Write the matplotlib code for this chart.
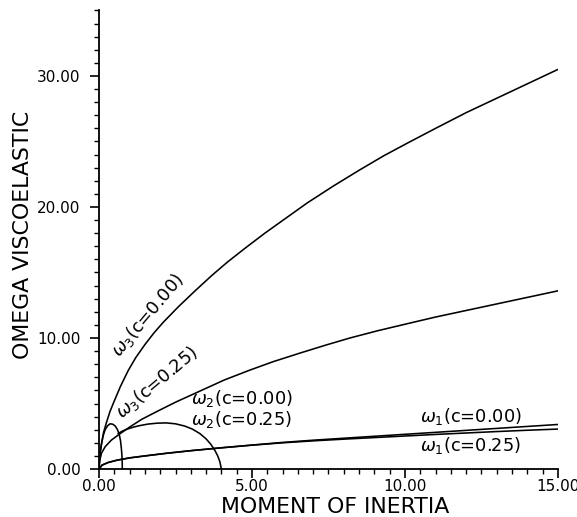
import matplotlib
matplotlib.use("Agg")
import matplotlib.pyplot as plt
from matplotlib.ticker import MultipleLocator, FormatStrFormatter

# -----------------------------------------------------------------------------
# values

w3_c000_x = [0, 0.03, 0.08, 0.15, 0.25, 0.36, 0.5, 0.7, 0.95, 1.2, 1.5, 1.8,
             2.1, 2.6, 3.14, 3.7, 4.2, 4.8, 5.42, 6.02, 6.8, 7.66, 8.5, 9.3,
             10.1, 11.0, 12.0, 13.0, 14.0, 15.0]
w3_c000_y = [0, 1.1, 1.9, 2.8, 3.6, 4.4, 5.2, 6.3, 7.5, 8.5, 9.5, 10.4,
             11.2, 12.4, 13.6, 14.8, 15.8, 16.9, 18.0, 19.0, 20.3, 21.6, 22.8,
             23.9, 24.9, 26.0, 27.2, 28.3, 29.4, 30.5]

w3_c025_x = [0, 0.02, 0.08, 0.2, 0.4, 0.69, 1.0, 1.4, 1.9, 2.5, 3.3, 4.1,
             4.93, 5.7, 6.57, 7.4, 8.2, 9.1, 10.0, 11.0, 12.0, 13.0, 14.0, 15.0]
w3_c025_y = [0, 0.6, 1.2, 1.7, 2.2, 2.7, 3.2, 3.8, 4.4, 5.1, 5.95, 6.8,
             7.55, 8.2, 8.85, 9.45, 10.0, 10.55, 11.05, 11.6, 12.1, 12.6,
             13.1, 13.6]

# small closed-off branch near the origin
w2_small_x = [0, 0.01, 0.04, 0.08, 0.13, 0.2, 0.28, 0.36, 0.45, 0.53, 0.6,
              0.66, 0.7, 0.73, 0.75, 0.76, 0.76]
w2_small_y = [0, 0.6, 1.3, 1.9, 2.5, 3.0, 3.3, 3.45, 3.42, 3.28, 3.02,
              2.65, 2.2, 1.6, 1.0, 0.4, 0]

# large arc
w2_big_x = [0.62, 0.75, 0.9, 1.1, 1.3, 1.6, 1.9, 2.2, 2.5, 2.8, 3.05, 3.3,
            3.5, 3.65, 3.78, 3.88, 3.95, 4.0]
w2_big_y = [2.7, 2.88, 3.03, 3.18, 3.3, 3.43, 3.5, 3.52, 3.45, 3.28, 3.05,
            2.7, 2.3, 1.9, 1.45, 1.0, 0.55, 0]

w1_x = [0, 0.1, 0.3, 0.6, 1.0, 1.5, 2.2, 3.0, 4.0, 5.0, 6.0, 7.0, 8.0, 9.0,
        10.0, 11.0, 12.0, 13.0, 14.0, 15.0]
w1_c000_y = [0, 0.3, 0.5, 0.68, 0.85, 1.0, 1.2, 1.4, 1.62, 1.83, 2.03, 2.2,
             2.35, 2.5, 2.65, 2.8, 2.95, 3.1, 3.25, 3.4]
w1_c025_y = [0, 0.3, 0.5, 0.68, 0.85, 1.0, 1.2, 1.4, 1.62, 1.82, 2.0, 2.15,
             2.28, 2.4, 2.52, 2.64, 2.75, 2.86, 2.96, 3.05]

x_label = "MOMENT OF INERTIA"
y_label = "OMEGA VISCOELASTIC"


# -----------------------------------------------------------------------------
def setup_axes(ax):
    ax.set_xlim(0, 15)
    ax.set_ylim(0, 35)
    ax.spines["top"].set_visible(False)
    ax.spines["right"].set_visible(False)
    ax.spines["left"].set_linewidth(1.3)
    ax.spines["bottom"].set_linewidth(1.3)

    ax.xaxis.set_major_locator(MultipleLocator(5))
    ax.xaxis.set_minor_locator(MultipleLocator(0.5))
    ax.yaxis.set_major_locator(MultipleLocator(10))
    ax.yaxis.set_minor_locator(MultipleLocator(1))
    ax.xaxis.set_major_formatter(FormatStrFormatter("%.2f"))
    ax.yaxis.set_major_formatter(FormatStrFormatter("%.2f"))

    ax.tick_params(which="major", direction="out", length=6.5, width=1.2,
                   labelsize=11)
    ax.tick_params(which="minor", direction="out", length=3.6, width=1.0)
    ax.tick_params(axis="x", which="major", pad=1)
    ax.tick_params(axis="y", which="major", pad=7)

    ax.set_xlabel(x_label, fontsize=15.8)
    ax.set_ylabel(y_label, fontsize=15.8)
    # label positions (axes fraction)
    ax.xaxis.set_label_coords(0.515, -0.062)
    ax.yaxis.set_label_coords(-0.143, 0.51)


# -----------------------------------------------------------------------------
def draw_curves(ax):
    kw = dict(color="black", lw=1.15, solid_capstyle="round")
    ax.plot(w3_c000_x, w3_c000_y, **kw)
    ax.plot(w3_c025_x, w3_c025_y, **kw)
    ax.plot(w2_small_x, w2_small_y, **kw)
    ax.plot(w2_big_x, w2_big_y, **kw)
    ax.plot(w1_x, w1_c000_y, **kw)
    ax.plot(w1_x, w1_c025_y, **kw)

    fs = 12.8
    ax.text(1.6, 11.75, r"$\omega_3$(c=0.00)", fontsize=fs, rotation=50,
            ha="center", va="center", rotation_mode="anchor")
    ax.text(1.9, 6.6, r"$\omega_3$(c=0.25)", fontsize=fs, rotation=40,
            ha="center", va="center", rotation_mode="anchor")
    ax.text(3.0, 5.4, r"$\omega_2$(c=0.00)", fontsize=fs, ha="left", va="center")
    ax.text(3.0, 3.8, r"$\omega_2$(c=0.25)", fontsize=fs, ha="left", va="center")
    ax.text(10.5, 4.0, r"$\omega_1$(c=0.00)", fontsize=fs, ha="left", va="center")
    ax.text(10.5, 1.8, r"$\omega_1$(c=0.25)", fontsize=fs, ha="left", va="center")


# =============================================================================
if __name__ == "__main__":
    fig = plt.figure(figsize=(5.77, 5.17), dpi=100)
    ax = fig.add_axes([0.1716, 0.0928, 0.7954, 0.887])
    setup_axes(ax)
    draw_curves(ax)
    fig.savefig("out.png", dpi=100)
